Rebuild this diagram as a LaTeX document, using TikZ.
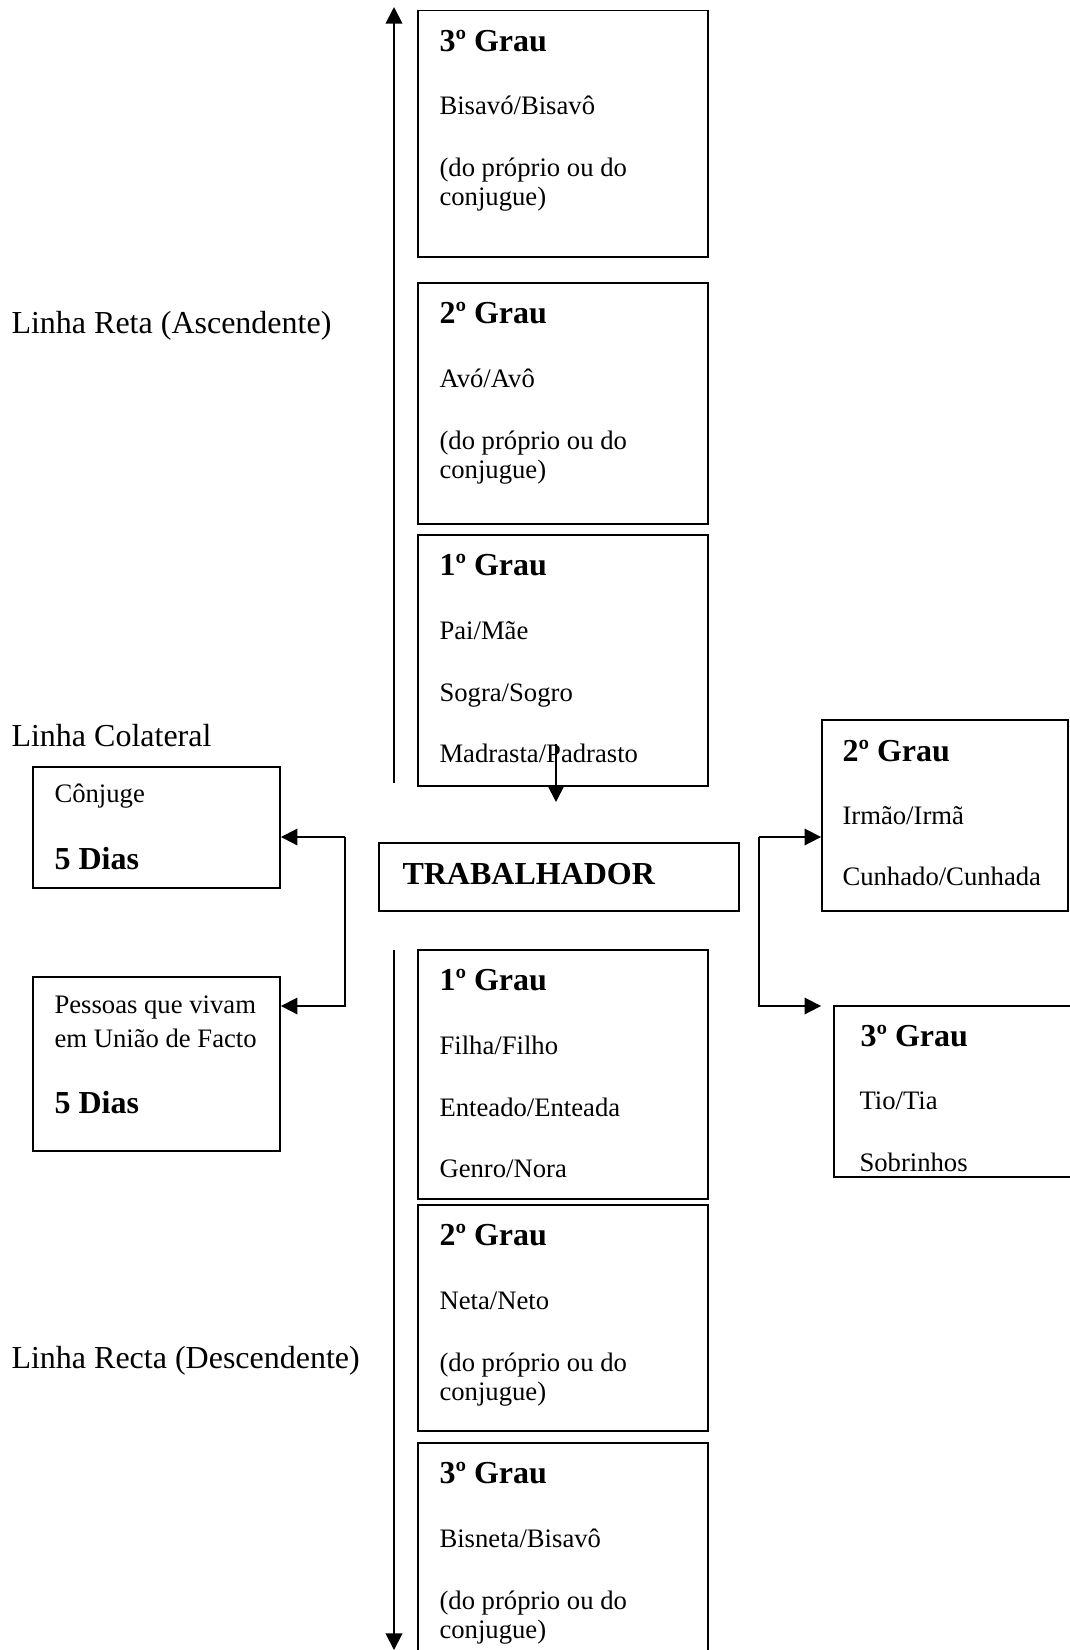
\documentclass[tikz,border=0pt]{standalone}
\usepackage{fontspec}
\setmainfont{Liberation Serif}
\usetikzlibrary{arrows.meta,fit}

\tikzset{
  box/.style={draw=black, line width=0.7pt, rectangle, inner sep=0pt},
  body/.style={anchor=base west, inner sep=0pt, font=\fontsize{10}{12}\selectfont},
  head/.style={anchor=base west, inner sep=0pt, font=\fontsize{12}{14}\selectfont\bfseries},
  lbl/.style={anchor=base west, inner sep=0pt, font=\fontsize{12}{14}\selectfont},
  arr/.style={draw=black, line width=0.7pt, -{Triangle[length=6.2pt,width=6.2pt]}},
  ln/.style={draw=black, line width=0.7pt}
}

\begin{document}
\begin{tikzpicture}[x=0.375pt, y=-0.375pt]
\useasboundingbox (0,0) rectangle (1070,1650);

% ---- side labels
\node[lbl] (lasc) at (11,333) {Linha Reta (Ascendente)};
\node[lbl] (lcol) at (11,746) {Linha Colateral};
\node[lbl] (ldesc) at (11,1368) {Linha Recta (Descendente)};

% ---- ascending line
\node[box, fit={(418,10.5) (708,257)}] (a3) {};
\node[head] (a3h) at (439,51) {3º Grau};
\node[body] (a3l1) at (439,114) {Bisavó/Bisavô};
\node[body] (a3l2) at (439,176) {(do próprio ou do};
\node[body] (a3l3) at (439,205) {conjugue)};

\node[box, fit={(418,283) (708,524)}] (a2) {};
\node[head] (a2h) at (439,323) {2º Grau};
\node[body] (a2l1) at (439,387) {Avó/Avô};
\node[body] (a2l2) at (439,449) {(do próprio ou do};
\node[body] (a2l3) at (439,478) {conjugue)};

\node[box, fit={(418,535) (708,786)}] (a1) {};
\node[head] (a1h) at (439,575) {1º Grau};
\node[body] (a1l1) at (439,639) {Pai/Mãe};
\node[body] (a1l2) at (439,701) {Sogra/Sogro};
\node[body] (a1l3) at (439,762) {Madrasta/Padrasto};

% ---- worker
\node[box, fit={(379,843) (739,911)}] (trab) {};
\node[head] (trabt) at (402,884) {TRABALHADOR};

% ---- descending line
\node[box, fit={(418,950) (708,1199)}] (d1) {};
\node[head] (d1h) at (439,990) {1º Grau};
\node[body] (d1l1) at (439,1054) {Filha/Filho};
\node[body] (d1l2) at (439,1116) {Enteado/Enteada};
\node[body] (d1l3) at (439,1177) {Genro/Nora};

\node[box, fit={(418,1205) (708,1431)}] (d2) {};
\node[head] (d2h) at (439,1245) {2º Grau};
\node[body] (d2l1) at (439,1309) {Neta/Neto};
\node[body] (d2l2) at (439,1371) {(do próprio ou do};
\node[body] (d2l3) at (439,1400) {conjugue)};

\node[box, fit={(418,1443) (708,1670)}] (d3) {};
\node[head] (d3h) at (439,1483) {3º Grau};
\node[body] (d3l1) at (439,1547) {Bisneta/Bisavô};
\node[body] (d3l2) at (439,1609) {(do próprio ou do};
\node[body] (d3l3) at (439,1638) {conjugue)};

% ---- collateral, left
\node[box, fit={(33,767) (280,888)}] (conj) {};
\node[body] (conjl1) at (54,802) {Cônjuge};
\node[head] (conjl2) at (54,869) {5 Dias};

\node[box, fit={(33,977) (280,1151)}] (uniao) {};
\node[body] (uniaol1) at (54,1013) {Pessoas que vivam};
\node[body] (uniaol2) at (54,1047) {em União de Facto};
\node[head] (uniaol3) at (54,1113) {5 Dias};

% ---- collateral, right
\node[box, fit={(822,720) (1068,911)}] (r2) {};
\node[head] (r2h) at (842,761) {2º Grau};
\node[body] (r2l1) at (842,824) {Irmão/Irmã};
\node[body] (r2l2) at (842,885) {Cunhado/Cunhada};

\node[box, fit={(834,1006) (1085,1177)}] (r3) {};
\node[head] (r3h) at (860,1046) {3º Grau};
\node[body] (r3l1) at (859,1109) {Tio/Tia};
\node[body] (r3l2) at (859,1171) {Sobrinhos};

% ---- connectors
\coordinate (upbot) at (394,783);
\coordinate (uptop) at (394,7);
\draw[arr] (upbot) -- (uptop);

\coordinate (dnbeg) at (394,950);
\coordinate (dnend) at (394,1650);
\draw[arr] (dnbeg) -- (dnend);

\coordinate (a1out) at (556,744);
\coordinate (a1tip) at (556,802);
\draw[arr] (a1out) -- (a1tip);

\coordinate (lbt) at (345,837);
\coordinate (lbb) at (345,1006);
\draw[arr] (lbt) -- (lbt -| conj.east);
\draw[arr] (lbt) -- (lbb) -- (lbb -| uniao.east);

\coordinate (rbt) at (759,837);
\coordinate (rbb) at (759,1006);
\draw[arr] (rbt) -- (rbt -| r2.west);
\draw[arr] (rbt) -- (rbb) -- (rbb -| r2.west);
\end{tikzpicture}
\end{document}
